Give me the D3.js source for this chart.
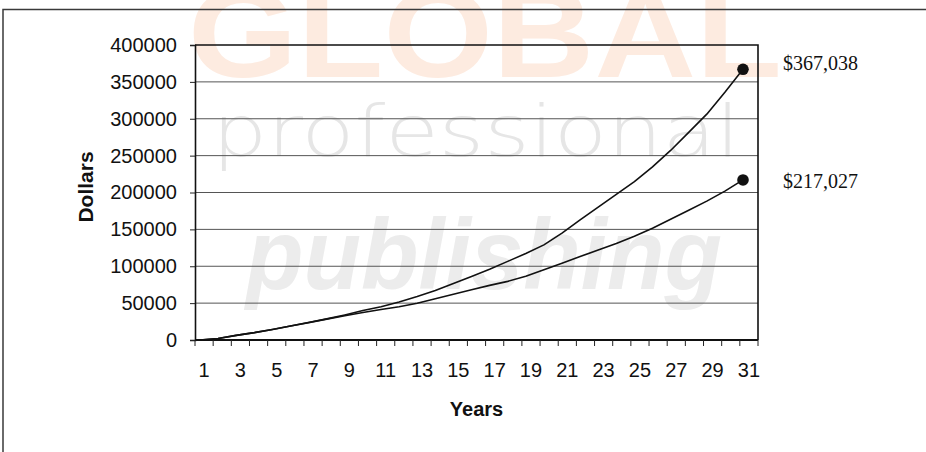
<!DOCTYPE html>
<html>
<head>
<meta charset="utf-8">
<script src="https://cdn.jsdelivr.net/npm/d3@7/dist/d3.min.js"></script>
<style>
  html, body { margin: 0; padding: 0; background: #fff; }
  svg { display: block; }
</style>
</head>
<body>
<svg id="chart" width="926" height="452"></svg>
<script>
// ---- data ----
const years = [1, 2, 3, 4, 5, 6, 7, 8, 9, 10, 11, 12, 13, 14, 15, 16,
               17, 18, 19, 20, 21, 22, 23, 24, 25, 26, 27, 28, 29, 30, 31];
const xTickLabels = [1, 3, 5, 7, 9, 11, 13, 15, 17, 19, 21, 23, 25, 27, 29, 31];
const yTicks = [0, 50000, 100000, 150000, 200000, 250000, 300000, 350000, 400000];

// faster-growing balance
const upperValues = [0, 2000, 6300, 10000, 14300, 19000, 23700, 28600, 34000, 39900,
                     45200, 51600, 58900, 67000, 76700, 86200, 95800, 106600, 117300, 129000,
                     145000, 162900, 180300, 197400, 214700, 234800, 257000, 281600, 306200, 335900,
                     367038];
// slower-growing balance
const lowerValues = [0, 2000, 6300, 10000, 14300, 19000, 23600, 28300, 33000, 37300,
                     41400, 45000, 49800, 55900, 62000, 68100, 74100, 79500, 86500, 95400,
                     104100, 113100, 122000, 131000, 140700, 151600, 163700, 176000, 188300, 201900,
                     217027];

const watermarkWords = ["GLOBAL", "professional", "publishing"];
const yTitle = "Dollars";
const xTitle = "Years";

// ---- layout ----
const svg = d3.select("#chart");
const plot = { left: 195, right: 758, top: 45, bottom: 340 };
const labelDy = [1, 8];

// background watermark
const wm = svg.append("g").attr("class", "watermark");
wm.append("text")
  .attr("x", 188).attr("y", 77)
  .attr("textLength", 594).attr("lengthAdjust", "spacingAndGlyphs")
  .attr("font-family", "Liberation Sans, Arial, sans-serif")
  .attr("font-weight", "bold").attr("font-size", 126)
  .attr("fill", "#fdebe0")
  .text(watermarkWords[0]);
wm.append("text")
  .attr("x", 212).attr("y", 156)
  .attr("textLength", 528).attr("lengthAdjust", "spacingAndGlyphs")
  .attr("font-family", "DejaVu Sans, sans-serif")
  .attr("font-weight", 200).attr("font-size", 72)
  .attr("fill", "#e6e6e6")
  .text(watermarkWords[1]);
wm.append("text")
  .attr("x", 246).attr("y", 289)
  .attr("textLength", 476).attr("lengthAdjust", "spacingAndGlyphs")
  .attr("font-family", "Liberation Sans, Arial, sans-serif")
  .attr("font-weight", "bold").attr("font-style", "italic").attr("font-size", 100)
  .attr("fill", "#ececec")
  .text(watermarkWords[2]);

// outer frame (top and left edges)
svg.append("path")
  .attr("d", "M3,452 V9.5 H926")
  .attr("fill", "none").attr("stroke", "#3a3a3a").attr("stroke-width", 1.5);

// ---- scales ----
const xBand = d3.scaleBand().domain(years).range([plot.left, plot.right]).padding(0);
const xPt = d3.scalePoint().domain(years).range([plot.left + 5, plot.right - 15]);
const y = d3.scaleLinear().domain([0, 400000]).range([plot.bottom, plot.top]);

// gridlines
svg.append("g").selectAll("line")
  .data(yTicks.filter(d => d > 0 && d < 400000))
  .join("line")
  .attr("x1", plot.left).attr("x2", plot.right)
  .attr("y1", d => y(d)).attr("y2", d => y(d))
  .attr("stroke", "#555").attr("stroke-width", 1);

// plot border top and right
svg.append("path")
  .attr("d", `M${plot.left},${y(400000)} H${plot.right} V${y(0)}`)
  .attr("fill", "none").attr("stroke", "#111").attr("stroke-width", 1.6);

// y axis
const yAxis = svg.append("g")
  .attr("transform", `translate(${plot.left},0)`)
  .call(d3.axisLeft(y).tickValues(yTicks).tickSize(5).tickPadding(13).tickFormat(d3.format("d")));
yAxis.select(".domain").attr("stroke", "#111").attr("stroke-width", 1.6);
yAxis.selectAll(".tick line").attr("stroke", "#222");
yAxis.selectAll(".tick text")
  .attr("font-family", "Liberation Sans, Arial, sans-serif")
  .attr("font-size", 20).attr("fill", "#111");

// x axis: baseline, boundary ticks, odd-year labels
const xAxis = svg.append("g").attr("transform", `translate(0,${y(0)})`);
xAxis.append("line")
  .attr("x1", plot.left).attr("x2", plot.right)
  .attr("stroke", "#111").attr("stroke-width", 2.2);
const bounds = d3.range(years.length + 1).map(i => xBand.range()[0] + i * xBand.step());
xAxis.selectAll("line.tk").data(bounds).join("line")
  .attr("class", "tk")
  .attr("x1", d => d).attr("x2", d => d)
  .attr("y1", 0).attr("y2", 6)
  .attr("stroke", "#222").attr("stroke-width", 1);
xAxis.selectAll("text").data(xTickLabels).join("text")
  .attr("x", d => xBand(d) + xBand.bandwidth() / 2)
  .attr("y", 37)
  .attr("text-anchor", "middle")
  .attr("font-family", "Liberation Sans, Arial, sans-serif")
  .attr("font-size", 20).attr("fill", "#111")
  .text(d => d);

// axis titles
svg.append("text")
  .attr("transform", `translate(93,187) rotate(-90)`)
  .attr("text-anchor", "middle")
  .attr("font-family", "Liberation Sans, Arial, sans-serif")
  .attr("font-weight", "bold").attr("font-size", 21).attr("fill", "#111")
  .text(yTitle);
svg.append("text")
  .attr("x", (plot.left + plot.right) / 2).attr("y", 416)
  .attr("text-anchor", "middle")
  .attr("font-family", "Liberation Sans, Arial, sans-serif")
  .attr("font-weight", "bold").attr("font-size", 20).attr("fill", "#111")
  .text(xTitle);

// series lines
const series = [upperValues, lowerValues];
const line = d3.line().x((d, i) => xPt(years[i])).y(d => y(d));
svg.append("g").selectAll("path").data(series).join("path")
  .attr("d", line)
  .attr("fill", "none").attr("stroke", "#111").attr("stroke-width", 1.6)
  .attr("stroke-linejoin", "round");

// end markers and value labels
const last = years[years.length - 1];
svg.append("g").selectAll("circle").data(series).join("circle")
  .attr("cx", xPt(last))
  .attr("cy", d => y(d[d.length - 1]))
  .attr("r", 5.8)
  .attr("fill", "#111");
svg.append("g").selectAll("text").data(series).join("text")
  .attr("x", 783)
  .attr("y", (d, i) => y(d[d.length - 1]) + labelDy[i])
  .attr("font-family", "Liberation Serif, Times New Roman, serif")
  .attr("font-size", 20).attr("fill", "#111")
  .text(d => "$" + d3.format(",")(d[d.length - 1]));
</script>
</body>
</html>
